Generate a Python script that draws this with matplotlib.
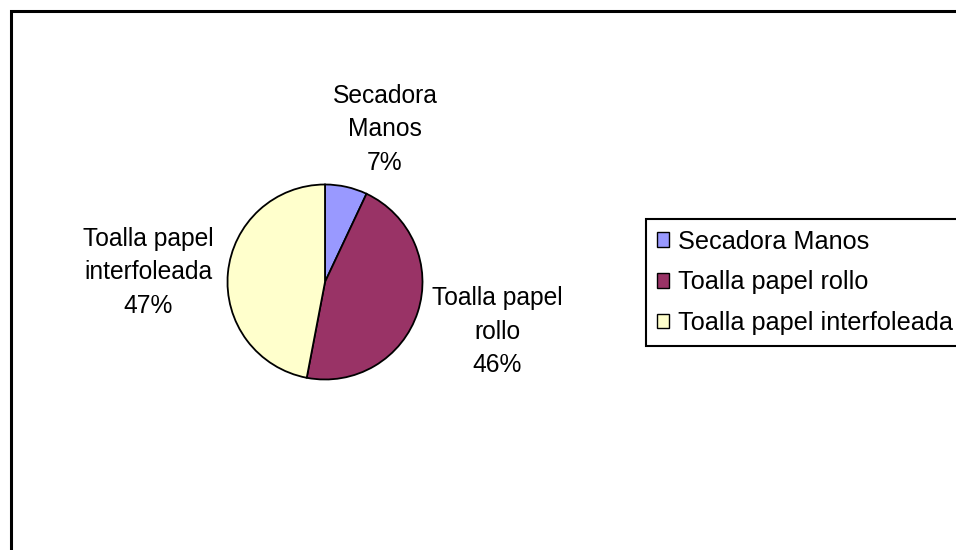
import matplotlib.pyplot as plt
from matplotlib.patches import Rectangle, Patch

plt.rcParams['font.family'] = ['Liberation Sans', 'DejaVu Sans']

categories = ['Secadora Manos', 'Toalla papel rollo', 'Toalla papel interfoleada']
shares = [7, 46, 47]
pie_labels = ['Secadora\nManos\n7%', 'Toalla papel\nrollo\n46%', 'Toalla papel\ninterfoleada\n47%']
colors = ['#9999FF', '#993366', '#FFFFCC']

W, H = 956, 550
fig = plt.figure(figsize=(W / 100, H / 100), dpi=100)

# outer chart border (runs off the right and bottom edges)
fig.patches.append(Rectangle((11 / W, -0.1), 1.2, 1 - 11 / H + 0.1,
                             transform=fig.transFigure, fill=False,
                             edgecolor='black', linewidth=2.2))

# pie axes: centre (325, 282) px, radius ~97 px
cx, cy, r = 325, 282, 97.5
ax = fig.add_axes([(cx - r) / W, (H - cy - r) / H, 2 * r / W, 2 * r / H])
ax.pie(shares, colors=colors, startangle=90, counterclock=False,
       wedgeprops=dict(edgecolor='black', linewidth=1.3))
ax.set_xlim(-1, 1)
ax.set_ylim(-1, 1)
ax.set_aspect('equal')
ax.axis('off')

# data labels placed around the pie (pixel positions of their centres)
label_pos = [(385, 129), (497, 332), (148, 272)]
for txt, (px, py) in zip(pie_labels, label_pos):
    fig.text(px / W, 1 - py / H, txt, ha='center', va='center',
             fontsize=17.7, linespacing=1.5)

handles = [Patch(facecolor=c, edgecolor='black', linewidth=1) for c in colors]
leg = fig.legend(handles, categories, loc='upper left',
                 bbox_to_anchor=(646 / W, 1 - 219 / H), borderaxespad=0,
                 fontsize=18.2, handlelength=0.5, handleheight=0.5,
                 handletextpad=0.33, labelspacing=0.66, borderpad=0.42,
                 fancybox=False, shadow=False, framealpha=1)
leg.get_frame().set_edgecolor('black')
leg.get_frame().set_linewidth(1.5)

fig.savefig('out.png', dpi=100)
